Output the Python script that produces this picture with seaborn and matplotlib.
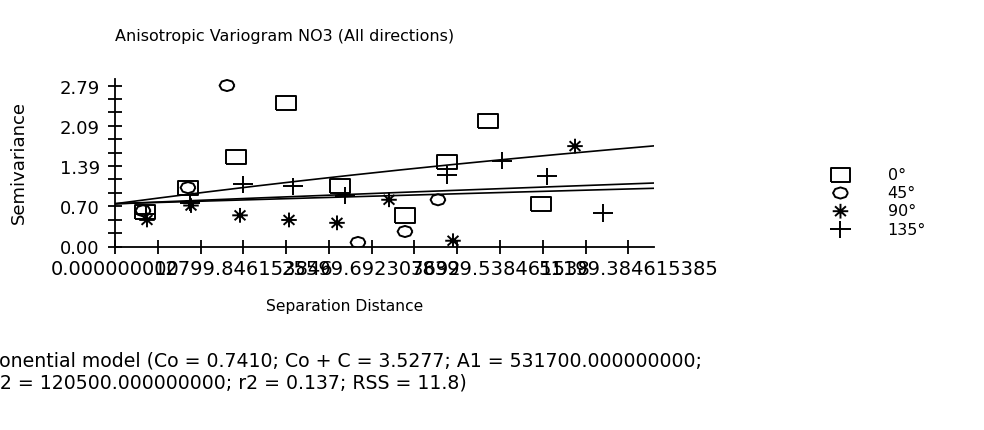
import numpy as np
import matplotlib
matplotlib.use("Agg")
import matplotlib.pyplot as plt
from matplotlib.path import Path
from matplotlib.markers import MarkerStyle
import seaborn as sns

# ---- data -----------------------------------------------------------------
# lag distances (separation distance units) and semivariances per direction
lag_0 = [2992, 7281, 12069, 17056, 22442, 28925, 33114, 37203, 42489]
gamma_0 = [0.60, 1.01, 1.55, 2.49, 1.05, 0.54, 1.46, 2.18, 0.74]

lag_45 = [2800, 7281, 11171, 24237, 28925, 32216]
gamma_45 = [0.62, 1.02, 2.79, 0.07, 0.26, 0.81]

lag_90 = [3190, 7580, 12468, 17355, 22142, 27329, 33712, 45881]
gamma_90 = [0.46, 0.71, 0.54, 0.46, 0.41, 0.81, 0.10, 1.74]

lag_135 = [3090, 7480, 12767, 17754, 22940, 33114, 38599, 43088, 48673]
gamma_135 = [0.57, 0.76, 1.08, 1.04, 0.88, 1.24, 1.49, 1.22, 0.58]

direction_labels = ["0°", "45°", "90°", "135°"]

# exponential model: nugget, sill and effective range along each line drawn
nugget = 0.7410
sill = 3.5277
model_ranges = [531700.0, 389600.0, 120500.0]

# axis scales
x_max = 53759.0
y_max = 2.90
x_major_ticks = [0.0, 12799.846153846, 25599.692307692, 38399.538461538, 51199.384615385]
x_tick_labels = ["0.000000000", "12799.846153846", "25599.692307692",
                 "38399.538461538", "51199.384615385"]
x_minor_step = 4266.615384615
y_major_ticks = [0.0, 0.6975, 1.395, 2.0925, 2.79]
y_tick_labels = ["0.00", "0.70", "1.39", "2.09", "2.79"]
y_minor_step = 0.2325

title = "Anisotropic Variogram NO3 (All directions)"
x_label = "Separation Distance"
y_label = "Semivariance"
model_line1 = "Exponential model (Co = 0.7410; Co + C = 3.5277; A1 = 531700.000000000;"
model_line2 = "A2 = 120500.000000000; r2 = 0.137; RSS = 11.8)"

# ---- style ----------------------------------------------------------------
sns.set_theme(style="white")
plt.rcParams["font.family"] = ["DejaVu Sans"]

W, H = 984, 431
fig = plt.figure(figsize=(W / 100, H / 100), dpi=100)
ax_left, ax_right, ax_bottom_px = 115, 654, 247.5
px_per_unit = 57.7
ax_top_px = ax_bottom_px - y_max * px_per_unit
ax = fig.add_axes([ax_left / W, 1 - ax_bottom_px / H,
                   (ax_right - ax_left) / W, (ax_bottom_px - ax_top_px) / H])
ax.set_facecolor("white")


def shape(verts, codes=None):
    return MarkerStyle(Path(verts, codes))


theta = np.linspace(0, 2 * np.pi, 9)
square = shape([(-1, -0.75), (1, -0.75), (1, 0.75), (-1, 0.75), (-1, -0.75)])
ellipse = shape(list(zip(np.cos(theta), 0.75 * np.sin(theta))))
M, L = Path.MOVETO, Path.LINETO
d = 0.7
star = shape([(-1, 0), (1, 0), (0, -0.95), (0, 0.95),
              (-d, -d * 0.9), (d, d * 0.9), (-d, d * 0.9), (d, -d * 0.9)],
             [M, L, M, L, M, L, M, L])
plus = shape([(-1, 0), (1, 0), (0, -0.85), (0, 0.85)], [M, L, M, L])

series = [
    (lag_0, gamma_0, square, 190),
    (lag_45, gamma_45, ellipse, 115),
    (lag_90, gamma_90, star, 125),
    (lag_135, gamma_135, plus, 210),
]

# model lines
h = np.linspace(0, x_max, 300)
for a in model_ranges:
    g = nugget + (sill - nugget) * (1 - np.exp(-h / a))
    sns.lineplot(x=h, y=g, color="black", linewidth=1.2, ax=ax)

for (xs, ys, mk, size), lab in zip(series, direction_labels):
    sns.scatterplot(x=xs, y=ys, marker=mk, s=size, color="black",
                    facecolor="none", edgecolor="black", linewidth=1.4,
                    ax=ax, label=lab, zorder=3)

ax.set_xlim(0, x_max)
ax.set_ylim(0, y_max)
for side in ["top", "right"]:
    ax.spines[side].set_visible(False)
for side in ["left", "bottom"]:
    ax.spines[side].set_color("black")
    ax.spines[side].set_linewidth(1.3)

ax.set_xticks(x_major_ticks)
ax.set_xticklabels(x_tick_labels)
ax.set_xticks(np.arange(0, x_max, x_minor_step), minor=True)
ax.set_yticks(y_major_ticks)
ax.set_yticklabels(y_tick_labels)
ax.set_yticks(np.arange(0, 2.8, y_minor_step), minor=True)
ax.tick_params(which="both", direction="inout", length=10, width=1.3,
               color="black", labelcolor="black")
ax.tick_params(axis="y", which="both", left=True, pad=6, labelsize=13)
ax.tick_params(axis="x", which="both", bottom=True, pad=4, labelsize=14)
ax.set_xlabel("")
ax.set_ylabel("")

leg = ax.legend(loc="upper left", bbox_to_anchor=(828.5 / W, 1 - 168 / H),
                bbox_transform=fig.transFigure, frameon=False, fontsize=11.5,
                handlelength=1.5, handletextpad=2.2, labelspacing=0.2,
                borderpad=0, borderaxespad=0)
for t in leg.get_texts():
    t.set_color("black")

fig.text(ax_left / W, 1 - 37 / H, title, ha="left", va="center",
         fontsize=11.5, color="black")
fig.text(19 / W, 1 - 163 / H, y_label, rotation=90, ha="center", va="center",
         fontsize=13, color="black")
fig.text(345 / W, 1 - 307 / H, x_label, ha="center", va="center",
         fontsize=11.2, color="black")
fig.text(-36 / W, 1 - 362 / H, model_line1, ha="left", va="center",
         fontsize=13.6, color="black")
fig.text(-13 / W, 1 - 383 / H, model_line2, ha="left", va="center",
         fontsize=13.6, color="black")

fig.savefig("out.png", dpi=100, facecolor="white")
